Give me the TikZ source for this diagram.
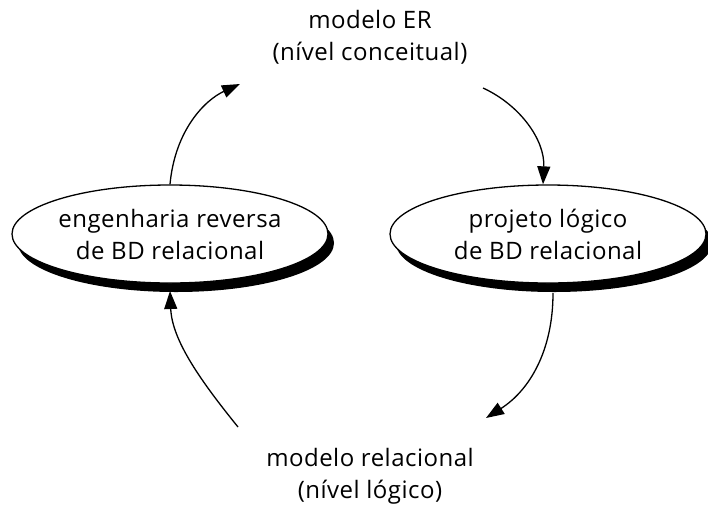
\documentclass[tikz,border=0pt]{standalone}
\usepackage{fontspec}
\setmainfont{Open Sans}
\usetikzlibrary{arrows.meta,shadows,shapes.geometric}
\begin{document}
\begin{tikzpicture}[x=1pt,y=-1pt,
  label text/.style={font=\fontsize{24}{32}\selectfont\addfontfeatures{LetterSpace=2}, align=center, inner sep=0pt},
  process/.style={ellipse, draw=black, line width=1.3pt, fill=white, inner sep=0pt,
    minimum width=316pt, minimum height=98pt,
    label text,
    drop shadow={shadow xshift=6pt, shadow yshift=-9pt, fill=black, opacity=1}},
  flow/.style={line width=1.3pt, -{Triangle[length=18pt,width=13pt]}}]
\useasboundingbox (0,0) rectangle (708,504);

% the two processes
\node[process] (rev) at (170,234) {engenharia reversa\\de BD relacional};
\node[process] (proj) at (548,234) {projeto lógico\\de BD relacional};

% the two models
\node[label text] (er) at (370,37) {modelo ER\\(nível conceitual)};
\node[label text] (rel) at (370,476) {modelo relacional\\(nível lógico)};

% free ends of the connectors
\coordinate (erIn) at (240,84);
\coordinate (erOut) at (483,88);
\coordinate (relIn) at (486,418);
\coordinate (relOut) at (238,427);
\coordinate (projOut) at (553,293);
\coordinate (revIn) at (170,291);

% cycle
\draw[flow] (rev.north) .. controls (175,130) and (205,100) .. (erIn);
\draw[flow] (erOut) .. controls (520,105) and (545,140) .. ([xshift=-5pt]proj.north);
\draw[flow] (projOut) .. controls (553,350) and (530,390) .. (relIn);
\draw[flow] (relOut) .. controls (200,380) and (172,340) .. (revIn);
\end{tikzpicture}
\end{document}
